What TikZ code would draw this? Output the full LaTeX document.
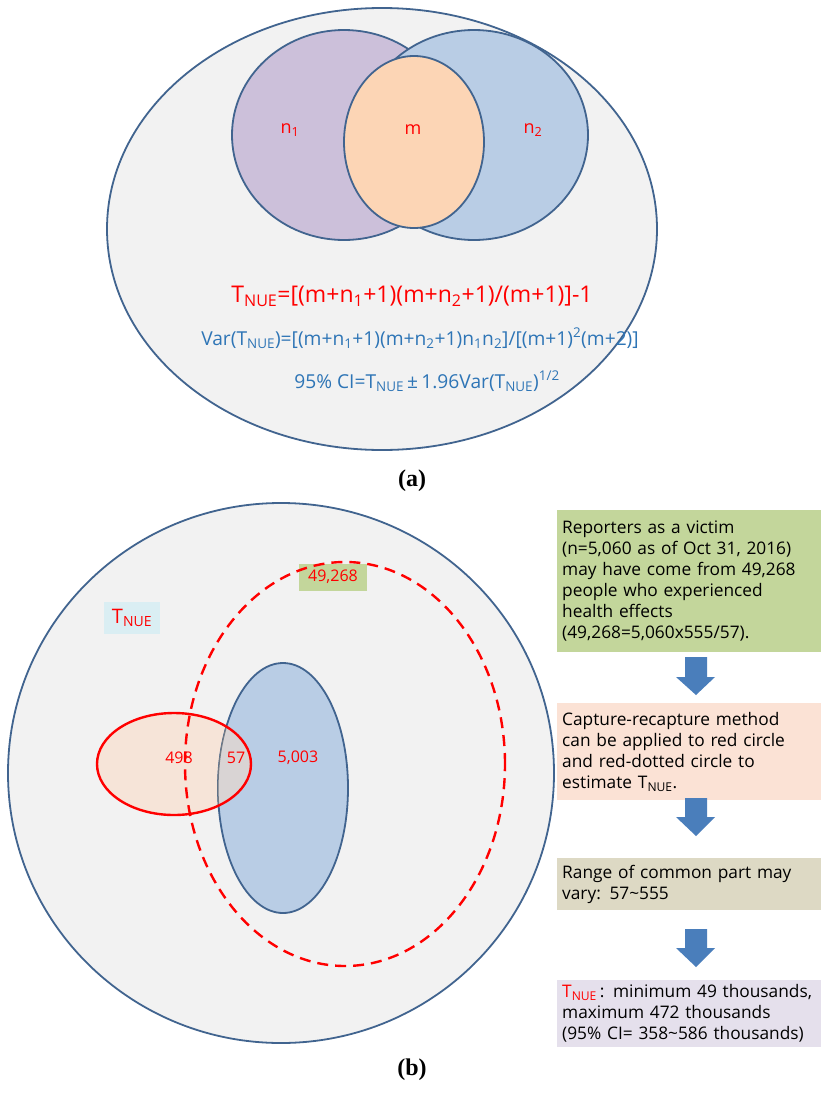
\documentclass[tikz,border=0pt]{standalone}
\usepackage{fontspec}
\setmainfont{Open Sans}
\newfontfamily\capfont{Liberation Serif}
\usetikzlibrary{calc}
\newcommand\subs[1]{\textsubscript{#1}}
\newcommand\sups[1]{\textsuperscript{#1}}
\definecolor{edgeblue}{HTML}{41648F}
\definecolor{bgray}{HTML}{F2F2F2}
\definecolor{lpurple}{HTML}{CCC0DA}
\definecolor{lblue}{HTML}{B9CDE5}
\definecolor{lorange}{HTML}{FCD5B5}
\definecolor{fblue}{HTML}{2E75B6}
\definecolor{fred}{HTML}{FF0000}
\definecolor{peach}{HTML}{F6E4D8}
\definecolor{overlap}{HTML}{D9D4D4}
\definecolor{gbox}{HTML}{C3D69B}
\definecolor{pbox}{HTML}{FBE2D5}
\definecolor{tbox}{HTML}{DDD9C4}
\definecolor{lbox}{HTML}{E5E0EC}
\definecolor{tbbox}{HTML}{DAEEF3}
\definecolor{arrblue}{HTML}{4A7EBB}
\tikzset{
  setedge/.style={draw=edgeblue, line width=1.8pt},
  redlbl/.style={text=fred, font=\fontsize{18}{21}\selectfont},
  numlbl/.style={text=fred, font=\fontsize{16}{19}\selectfont},
  infobox/.style={anchor=north west, minimum width=263pt, text width=255pt, inner xsep=5pt, inner ysep=0pt, align=left, font=\fontsize{17.3}{21}\selectfont, text=black},
  blockarrow/.style={fill=arrblue, draw=none},
  caplbl/.style={font=\capfont\bfseries\fontsize{24}{28}\selectfont}
}
\begin{document}
\begin{tikzpicture}[x=1pt,y=-1pt]
\useasboundingbox[fill=white] (0,0) rectangle (820,1093);
% ---------- (a) ----------
\path[setedge, fill=bgray] (382,229) ellipse [x radius=275pt, y radius=221pt];
\path[setedge, fill=lpurple] (344,135) ellipse [x radius=112pt, y radius=105pt];
\path[setedge, fill=lblue] (474,135) ellipse [x radius=114pt, y radius=105pt];
\path[setedge, fill=lorange] (414,142) ellipse [x radius=70pt, y radius=86pt];
\node[redlbl] (n1) at (290,130) {n\subs{1}};
\node[redlbl] (m) at (413,130) {m};
\node[redlbl] (n2) at (533,130) {n\subs{2}};
\node[text=fred, font=\fontsize{23}{27}\selectfont] (f1) at (412,296) {T\subs{NUE}=[(m+n\subs{1}+1)(m+n\subs{2}+1)/(m+1)]-1};
\node[text=fblue, font=\fontsize{19.2}{22}\selectfont] (f2) at (420,338) {Var(T\subs{NUE})=[(m+n\subs{1}+1)(m+n\subs{2}+1)n\subs{1}n\subs{2}]/[(m+1)\sups{2}(m+2)]};
\node[text=fblue, font=\fontsize{19.2}{22}\selectfont] (f3) at (427,381) {95\% CI=T\subs{NUE}\,±\,1.96Var(T\subs{NUE})\sups{1/2}};
\node[caplbl] (capa) at (412,481) {(a)};
% ---------- (b) ----------
\path[setedge, fill=bgray] (281,773) ellipse [x radius=273pt, y radius=270pt];
\node[fill=tbbox, minimum width=56pt, minimum height=32pt, inner sep=0pt, text=fred, font=\fontsize{20}{23}\selectfont] (tnue) at (132,618) {T\subs{NUE}};
\path[fill=peach] (174,764) ellipse [x radius=77pt, y radius=51pt];
\path[setedge, fill=lblue] (283,788) ellipse [x radius=65pt, y radius=125pt];
\begin{scope}
  \clip (174,764) ellipse [x radius=77pt, y radius=51pt];
  \path[fill=overlap, draw=gray!80!edgeblue, line width=1.2pt] (283,788) ellipse [x radius=65pt, y radius=125pt];
\end{scope}
\path[draw=fred, line width=2.4pt] (174,764) ellipse [x radius=77pt, y radius=51pt];
\node[fill=gbox, minimum width=68pt, minimum height=27pt, inner sep=0pt] (lbl49) at (333,577) {};
\path[draw=fred, line width=2.4pt, dash pattern=on 11pt off 7pt] (345,764) ellipse [x radius=160pt, y radius=202pt];
\node[numlbl] at (lbl49) {49,268};
\node[numlbl] (v498) at (179,758) {498};
\node[numlbl] (v57) at (236,758) {57};
\node[numlbl] (v5003) at (298,758) {5,003};
% boxes
\node[infobox, fill=gbox, minimum height=142pt] (b1) at (557,510) {Reporters as a victim\\(n=5,060 as of Oct 31, 2016)\\may have come from 49,268\\people who experienced\\health effects\\(49,268=5,060x555/57).};
\node[infobox, fill=pbox, minimum height=97pt] (b2) at (557,703) {Capture-recapture method\\can be applied to red circle\\and red-dotted circle to\\estimate T\subs{NUE}.};
\node[infobox, fill=tbox, minimum height=52pt] (b3) at (557,858) {Range of common part may\\vary: 57\char`~555};
\node[infobox, fill=lbox, minimum height=67pt] (b4) at (557,980) {\textcolor{fred}{T\subs{NUE}}\,: minimum 49 thousands,\\maximum 472 thousands\\(95\% CI= 358\char`~586 thousands)};
\node[caplbl] (capb) at (412,1070) {(b)};
% block arrows
\foreach \top/\hs/\tip in {657/677/695, 798/817/836, 929/948/967}{
  \path[blockarrow] (685,\top) -- (707,\top) -- (707,\hs) -- (715,\hs) -- (696,\tip) -- (676,\hs) -- (685,\hs) -- cycle;
}
\end{tikzpicture}
\end{document}
